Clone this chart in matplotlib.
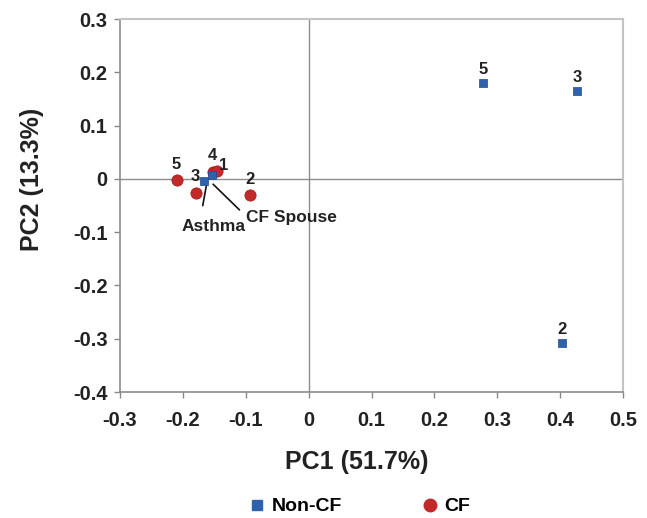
import matplotlib.pyplot as plt
from matplotlib.lines import Line2D

plt.rcParams['font.family'] = ['Liberation Sans', 'DejaVu Sans']

# Non-CF (blaue Quadrate)
noncf_labels = ["5", "3", "2", "", ""]
noncf_x = [0.278, 0.427, 0.403, -0.167, -0.154]
noncf_y = [0.180, 0.164, -0.308, -0.004, 0.008]

# CF (rote Kreise)
cf_labels = ["5", "3", "4", "1", "2"]
cf_x = [-0.210, -0.179, -0.152, -0.146, -0.094]
cf_y = [-0.002, -0.027, 0.013, 0.015, -0.030]

xticks = [-0.3, -0.2, -0.1, 0, 0.1, 0.2, 0.3, 0.4, 0.5]
yticks = [-0.4, -0.3, -0.2, -0.1, 0, 0.1, 0.2, 0.3]

blue = "#2f62ad"
red = "#c22a2a"

fig = plt.figure(figsize=(6.47, 5.18), dpi=100)
ax = fig.add_axes([0.1855, 0.2432, 0.7775, 0.7201])

ax.axhline(0, color="#8c8c8c", lw=1.0, zorder=1)
ax.axvline(0, color="#8c8c8c", lw=1.0, zorder=1)

ax.scatter(cf_x, cf_y, marker="o", s=66, color=red, edgecolors="#a01818", linewidths=0.5, zorder=3)
ax.scatter(noncf_x, noncf_y, marker="s", s=40, color=blue, edgecolors="#1f4a8a", linewidths=0.5, zorder=4)

# Beschriftung der Punkte
lab_kw = dict(fontsize=12, fontweight="bold", ha="center", va="bottom", color="#222222", zorder=5)
for lx, ly, t in zip(noncf_x[:3], noncf_y[:3], noncf_labels[:3]):
    ax.text(lx, ly + 0.012, t, **lab_kw)
ax.text(-0.210, 0.012, "5", **lab_kw)
ax.text(-0.180, -0.009, "3", **lab_kw)
ax.text(-0.153, 0.030, "4", **lab_kw)
ax.text(-0.136, 0.011, "1", **lab_kw)
ax.text(-0.094, -0.015, "2", **lab_kw)

ax.annotate("Asthma", xy=(-0.162, -0.008), xytext=(-0.152, -0.090),
            fontsize=12.5, fontweight="bold", ha="center", va="center", color="#222222",
            arrowprops=dict(arrowstyle="-", color="#111111", lw=1.2,
                            shrinkA=8, shrinkB=0, relpos=(0.3, 1.0)))
ax.annotate("CF Spouse", xy=(-0.152, -0.010), xytext=(-0.027, -0.072),
            fontsize=12.5, fontweight="bold", ha="center", va="center", color="#222222",
            arrowprops=dict(arrowstyle="-", color="#111111", lw=1.2,
                            shrinkA=4, shrinkB=0, relpos=(0.0, 0.55)))

ax.set_xlim(-0.3, 0.5)
ax.set_ylim(-0.4, 0.3)
ax.set_xticks(xticks)
ax.set_yticks(yticks)
ax.set_xticklabels(["0" if v == 0 else f"{v:.1f}" for v in xticks])
ax.set_yticklabels(["0" if v == 0 else f"{v:.1f}" for v in yticks])
ax.tick_params(direction="out", length=4, width=1, color="#888888",
               labelsize=14.5, labelcolor="#222222")
ax.tick_params(axis="x", pad=10)
ax.tick_params(axis="y", pad=5)
for lbl in ax.get_xticklabels() + ax.get_yticklabels():
    lbl.set_fontweight("bold")

for side in ["left", "bottom"]:
    ax.spines[side].set_color("#8c8c8c")
    ax.spines[side].set_linewidth(1.2)
for side in ["top", "right"]:
    ax.spines[side].set_color("#c4c4c4")
    ax.spines[side].set_linewidth(1.5)

ax.set_xlabel("PC1 (51.7%)", fontsize=18, fontweight="bold", color="#222222")
ax.set_ylabel("PC2 (13.3%)", fontsize=18, fontweight="bold", color="#222222")
ax.xaxis.set_label_coords(0.471, -0.188)
ax.yaxis.set_label_coords(-0.175, 0.57)
ax.xaxis.label.set_va("center")
ax.yaxis.label.set_va("center")

handles = [Line2D([], [], marker="s", ls="", color=blue, markersize=7, label="Non-CF"),
           Line2D([], [], marker="o", ls="", color=red, markersize=9, label="CF")]
fig.legend(handles=handles, loc="center", bbox_to_anchor=(0.555, 0.022), ncol=2,
           frameon=False, prop=dict(weight="bold", size=14), columnspacing=4.0,
           handletextpad=0.25, handlelength=1.0)

plt.savefig("out.png", dpi=100)
